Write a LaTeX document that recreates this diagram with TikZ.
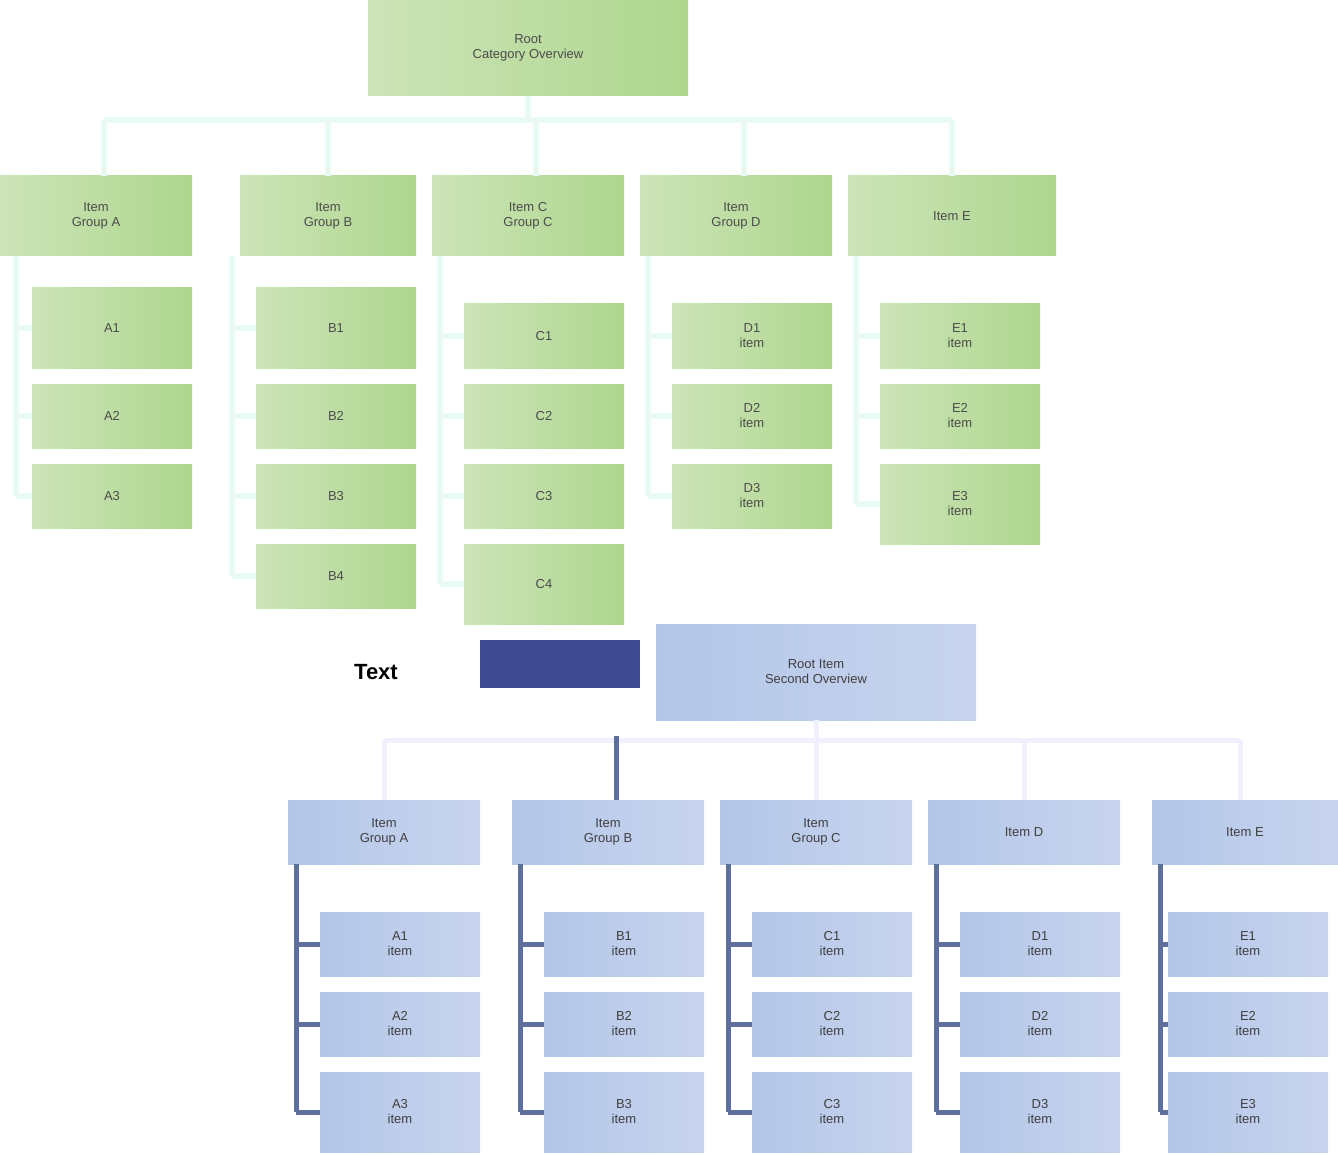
\documentclass[tikz,border=0pt]{standalone}
\usepackage{fontspec}
\setmainfont{Liberation Sans}
\usetikzlibrary{calc}
\definecolor{gA}{HTML}{CDE4B8}
\definecolor{gB}{HTML}{AED68E}
\definecolor{bA}{HTML}{B3C6E8}
\definecolor{bB}{HTML}{C8D4EE}
\definecolor{gl}{HTML}{E8FAF2}
\definecolor{bl}{HTML}{5F6F9C}
\definecolor{dk}{HTML}{3F4C92}
\begin{document}
\begin{tikzpicture}[x=1pt,y=-1pt,
  gbox/.style={draw=none,left color=gA,right color=gB,inner sep=2pt,align=center,font=\fontsize{13}{15}\selectfont,text=black!70},
  bbox/.style={draw=none,left color=bA,right color=bB,inner sep=2pt,align=center,font=\fontsize{13}{15}\selectfont,text=black!75},
  gline/.style={draw=gl,line width=6pt},
  bline/.style={draw=bl,line width=5pt}]
\useasboundingbox (0,0) rectangle (1338,1155);
\newcommand\bx[7]{\node[#6,minimum width={#4-#2},minimum height={#5-#3}] (#1) at ({(#2+#4)/2},{(#3+#5)/2}) {#7};}
% green
\bx{r}{368}{0}{688}{96}{gbox}{Root\\Category Overview}
\bx{a}{0}{176}{192}{256}{gbox}{Item\\Group A}
\bx{b}{240}{176}{416}{256}{gbox}{Item\\Group B}
\bx{c}{432}{176}{624}{256}{gbox}{Item C\\Group C}
\bx{d}{640}{176}{832}{256}{gbox}{Item\\Group D}
\bx{e}{848}{176}{1056}{256}{gbox}{Item E}
\bx{a1}{32}{288}{192}{368}{gbox}{A1}
\bx{a2}{32}{384}{192}{448}{gbox}{A2}
\bx{a3}{32}{464}{192}{528}{gbox}{A3}
\bx{b1}{256}{288}{416}{368}{gbox}{B1}
\bx{b2}{256}{384}{416}{448}{gbox}{B2}
\bx{b3}{256}{464}{416}{528}{gbox}{B3}
\bx{b4}{256}{544}{416}{608}{gbox}{B4}
\bx{c1}{464}{304}{624}{368}{gbox}{C1}
\bx{c2}{464}{384}{624}{448}{gbox}{C2}
\bx{c3}{464}{464}{624}{528}{gbox}{C3}
\bx{c4}{464}{544}{624}{624}{gbox}{C4}
\bx{d1}{672}{304}{832}{368}{gbox}{D1\\item}
\bx{d2}{672}{384}{832}{448}{gbox}{D2\\item}
\bx{d3}{672}{464}{832}{528}{gbox}{D3\\item}
\bx{e1}{880}{304}{1040}{368}{gbox}{E1\\item}
\bx{e2}{880}{384}{1040}{448}{gbox}{E2\\item}
\bx{e3}{880}{464}{1040}{544}{gbox}{E3\\item}
\coordinate (gh) at (528,120);
\draw[gline] (r.south) -- (gh);
\draw[gline] (104,120) -- (952,120);
\foreach \xx in {104,328,536,744,952} \draw[gline] (\xx,120) -- (\xx,176);
\foreach \xx/\l in {16/a3,232/b4,440/c4,648/d3,856/e3}
  \draw[gline] let \p1=(\l.west) in (\xx,256) -- (\xx,\y1);
\foreach \xx/\l in {16/a1,16/a2,16/a3,232/b1,232/b2,232/b3,232/b4,440/c1,440/c2,440/c3,440/c4,648/d1,648/d2,648/d3,856/e1,856/e2,856/e3}
  \draw[gline] let \p1=(\l.west) in (\xx,\y1) -- (\l.west);
% blue
\node[font=\bfseries\fontsize{22}{24}\selectfont,text=black] (lab) at (376,672) {Text};
\node[fill=dk,minimum width=160,minimum height=48] (dkb) at (560,664) {};
\bx{R}{656}{624}{976}{720}{bbox}{Root Item\\Second Overview}
\bx{A}{288}{800}{480}{864}{bbox}{Item\\Group A}
\bx{B}{512}{800}{704}{864}{bbox}{Item\\Group B}
\bx{C}{720}{800}{912}{864}{bbox}{Item\\Group C}
\bx{D}{928}{800}{1120}{864}{bbox}{Item D}
\bx{E}{1152}{800}{1338}{864}{bbox}{Item E}
\foreach \nm/\xx in {A/320,B/544,C/752,D/960,E/1168}{
 \bx{\nm1}{\xx}{912}{\xx+160}{976}{bbox}{\nm1\\item}
 \bx{\nm2}{\xx}{992}{\xx+160}{1056}{bbox}{\nm2\\item}
 \bx{\nm3}{\xx}{1072}{\xx+160}{1152}{bbox}{\nm3\\item}}
\draw[bline,draw=blue!6!white] (R.south) -- (816,740);
\draw[bline,draw=blue!6!white] (384,740) -- (1240,740);
\draw[bline] (616,736) -- (616,800);
\foreach \xx in {384,816,1024,1240} \draw[bline,draw=blue!6!white] (\xx,740) -- (\xx,800);
\foreach \nm/\xx in {A/296,B/520,C/728,D/936,E/1160}{
  \draw[bline] let \p1=(\nm3.west) in (\xx,864) -- (\xx,\y1);
  \foreach \k in {1,2,3} \draw[bline] let \p1=(\nm\k.west) in (\xx,\y1) -- (\nm\k.west);}
\end{tikzpicture}
\end{document}
